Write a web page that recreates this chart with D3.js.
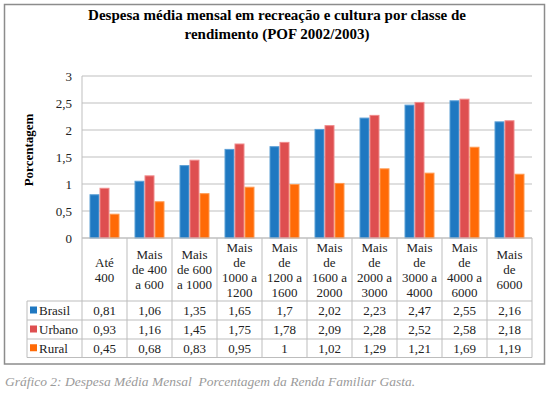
<!DOCTYPE html>
<html>
<head>
<meta charset='utf-8'>
<title>Despesa média mensal</title>
<style>
  body { margin: 0; background: #fff; }
</style>
</head>
<body>
<script src='https://cdnjs.cloudflare.com/ajax/libs/d3/7.8.5/d3.min.js'></script>
<script>
const categories = [
    ['Até', '400'],
    ['Mais', 'de 400', 'a 600'],
    ['Mais', 'de 600', 'a 1000'],
    ['Mais', 'de', '1000 a', '1200'],
    ['Mais', 'de', '1200 a', '1600'],
    ['Mais', 'de', '1600 a', '2000'],
    ['Mais', 'de', '2000 a', '3000'],
    ['Mais', 'de', '3000 a', '4000'],
    ['Mais', 'de', '4000 a', '6000'],
    ['Mais', 'de', '6000']
];
const seriesNames = ['Brasil', 'Urbano', 'Rural'];
const brasil = [0.81, 1.06, 1.35, 1.65, 1.7, 2.02, 2.23, 2.47, 2.55, 2.16];
const urbano = [0.93, 1.16, 1.45, 1.75, 1.78, 2.09, 2.28, 2.52, 2.58, 2.18];
const rural = [0.45, 0.68, 0.83, 0.95, 1, 1.02, 1.29, 1.21, 1.69, 1.19];
const yTicks = [0, 0.5, 1, 1.5, 2, 2.5, 3];

const seriesValues = [brasil, urbano, rural];
const fills = ['#1f78c1', '#de4f50', '#ff6a06'];
const strokes = ['#5b9fd6', '#f08a8a', '#ff9a50'];
const serif = "'Liberation Serif', 'Times New Roman', Times, serif";

const W = 553, H = 393;
const plot = {left: 82, right: 532, top: 76, bottom: 238};
const rowH = [301, 320, 339, 357.5];
const fmt = (n) => String(n).replace('.', ',');

const svg = d3.select('body').append('svg')
    .attr('width', W)
    .attr('height', H);

// outer frame
svg.append('rect')
    .attr('x', 4.5).attr('y', 4.5)
    .attr('width', 540).attr('height', 359.5)
    .attr('fill', '#fff')
    .attr('stroke', '#8c8c8c')
    .attr('stroke-width', 1.5);

// title
const title = svg.append('text')
    .attr('text-anchor', 'middle')
    .attr('font-size', 15)
    .attr('font-weight', 'bold');
title.append('tspan').attr('x', 277).attr('y', 20)
    .text('Despesa média mensal em recreação e cultura por classe de');
title.append('tspan').attr('x', 277).attr('y', 39)
    .text('rendimento (POF 2002/2003)');

const x = d3.scaleBand()
    .domain(d3.range(categories.length))
    .range([plot.left, plot.right]);

const xs = d3.scaleBand()
    .domain(d3.range(seriesNames.length))
    .range([7.5, x.bandwidth() - 7.5]);

const y = d3.scaleLinear()
    .domain([0, 3])
    .range([plot.bottom, plot.top]);

// grid
svg.append('g')
    .selectAll('line')
    .data(yTicks)
    .enter()
    .append('line')
    .attr('x1', plot.left).attr('x2', plot.right)
    .attr('y1', (d) => y(d)).attr('y2', (d) => y(d))
    .attr('stroke', '#d4d4d4')
    .attr('stroke-width', 1.5);

// left axis line
svg.append('line')
    .attr('x1', plot.left).attr('x2', plot.left)
    .attr('y1', plot.top).attr('y2', plot.bottom)
    .attr('stroke', '#bfbfbf')
    .attr('stroke-width', 1);

const yAxis = d3.axisLeft(y)
    .tickValues(yTicks)
    .tickSize(0)
    .tickPadding(10)
    .tickFormat(fmt);

const yg = svg.append('g')
    .attr('transform', 'translate(' + plot.left + ',0)')
    .call(yAxis);
yg.select('.domain').remove();
yg.attr('font-family', null).attr('font-size', null);
yg.selectAll('text')
    .attr('font-size', 13)
    .attr('fill', '#222');

svg.append('text')
    .attr('transform', 'translate(33,150) rotate(-90)')
    .attr('text-anchor', 'middle')
    .attr('font-size', 13)
    .attr('font-weight', 'bold')
    .text('Porcentagem');

// bars
seriesValues.forEach((vals, s) => {
    svg.append('g')
        .selectAll('rect')
        .data(vals)
        .enter()
        .append('rect')
        .attr('x', (d, i) => x(i) + xs(s) + 0.5)
        .attr('y', (d) => y(d) + 0.5)
        .attr('width', xs.bandwidth() - 1)
        .attr('height', (d) => y(0) - y(d) - 0.5)
        .attr('fill', fills[s])
        .attr('stroke', strokes[s])
        .attr('stroke-width', 1);
});

// data table
const table = svg.append('g')
    .attr('stroke', '#bdbdbd')
    .attr('stroke-width', 1);

table.selectAll('line.v')
    .data(d3.range(categories.length + 1))
    .enter()
    .append('line')
    .attr('class', 'v')
    .attr('x1', (i) => i < categories.length ? x(i) : plot.right)
    .attr('x2', (i) => i < categories.length ? x(i) : plot.right)
    .attr('y1', plot.bottom)
    .attr('y2', rowH[3]);

table.selectAll('line.h')
    .data(rowH)
    .enter()
    .append('line')
    .attr('class', 'h')
    .attr('x1', 27)
    .attr('x2', plot.right)
    .attr('y1', (d) => d)
    .attr('y2', (d) => d);

table.append('line')
    .attr('x1', 27).attr('x2', 27)
    .attr('y1', rowH[0]).attr('y2', rowH[3]);

table.append('line')
    .attr('x1', plot.left).attr('x2', plot.right)
    .attr('y1', plot.bottom).attr('y2', plot.bottom)
    .attr('stroke', '#bfbfbf');

// header labels
const headerMid = (plot.bottom + rowH[0]) / 2;
categories.forEach((lines, i) => {
    const t = svg.append('text')
        .attr('text-anchor', 'middle')
        .attr('font-size', 13)
        .attr('fill', '#222');
    const y0 = headerMid - (lines.length - 1) * 15 / 2 + 4.5;
    lines.forEach((ln, k) => {
        t.append('tspan')
            .attr('x', x(i) + x.bandwidth() / 2)
            .attr('y', y0 + k * 15)
            .text(ln);
    });
});

// legend cells and values
seriesNames.forEach((name, s) => {
    const mid = (rowH[s] + rowH[s + 1]) / 2;
    svg.append('rect')
        .attr('x', 30).attr('y', mid - 4)
        .attr('width', 7).attr('height', 7)
        .attr('fill', fills[s]);
    svg.append('text')
        .attr('x', 39).attr('y', mid + 4.5)
        .attr('font-size', 13)
        .attr('fill', '#222')
        .text(name);
    svg.append('g')
        .selectAll('text')
        .data(seriesValues[s])
        .enter()
        .append('text')
        .attr('x', (d, i) => x(i) + x.bandwidth() / 2)
        .attr('y', mid + 4.5)
        .attr('text-anchor', 'middle')
        .attr('font-size', 13)
        .attr('fill', '#222')
        .text(fmt);
});

// caption
svg.append('text')
    .attr('x', 5).attr('y', 386)
    .attr('font-size', 13.5)
    .attr('font-style', 'italic')
    .attr('fill', '#9a9a9a')
    .style('white-space', 'pre')
    .text('Gráfico 2: Despesa Média Mensal  Porcentagem da Renda Familiar Gasta.');

svg.selectAll('text').attr('font-family', serif);
</script>
</body>
</html>
